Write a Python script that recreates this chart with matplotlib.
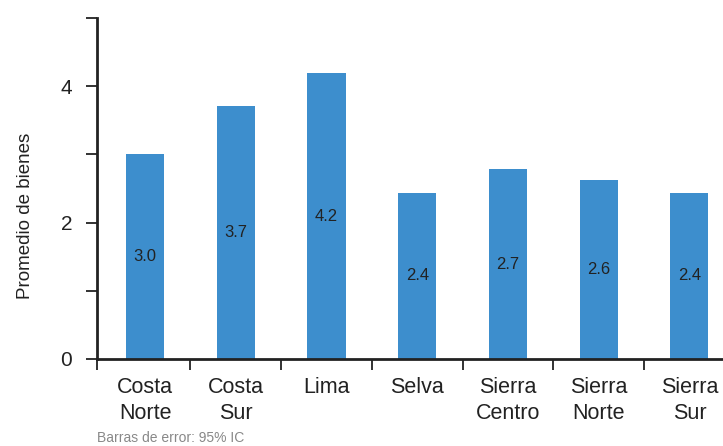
import numpy as np
import matplotlib.pyplot as plt

regions = ["Costa\nNorte", "Costa\nSur", "Lima", "Selva", "Sierra\nCentro", "Sierra\nNorte", "Sierra\nSur"]
promedio = [3.0, 3.71, 4.19, 2.44, 2.78, 2.62, 2.44]
value_labels = ["3.0", "3.7", "4.2", "2.4", "2.7", "2.6", "2.4"]

plt.rcParams['font.family'] = ['Liberation Sans', 'DejaVu Sans']

W, H = 723, 446
fig = plt.figure(figsize=(W / 100, H / 100), dpi=100)
ax = fig.add_axes([97 / W, (H - 359) / H, (W - 97) / W, (359 - 18) / H])

x = np.arange(len(regions))
ax.bar(x, promedio, width=0.42, color="#3d8ecd", zorder=2)

# value labels in the middle of each bar
for xi, v, lab in zip(x, promedio, value_labels):
    ax.text(xi, v / 2, lab, ha="center", va="center", fontsize=12, color="#222222")

x_left = -0.53
ax.set_xlim(x_left, 6.37)
ax.set_ylim(0, 5)

ax.set_yticks([0, 1, 2, 3, 4, 5])
ax.set_yticklabels(["0", "", "2", "", "4", ""])
ax.set_xticks(x)
ax.set_xticklabels(regions, fontsize=15.5, linespacing=1.3)
ax.set_xticks([x_left] + list(np.arange(1, len(regions)) - 0.5), minor=True)
ax.tick_params(axis="x", which="major", length=0, pad=13, colors="#222222")
ax.tick_params(axis="x", which="minor", length=8, width=1.3, color="#222222")
ax.tick_params(axis="y", length=8, width=1.3, labelsize=15, pad=10, color="#222222", labelcolor="#222222")

ax.spines["top"].set_visible(False)
ax.spines["right"].set_visible(False)
for s in ["left", "bottom"]:
    ax.spines[s].set_linewidth(2)
    ax.spines[s].set_color("#222222")
ax.spines["left"].set_bounds(0, 5)

ax.set_ylabel("Promedio de bienes", fontsize=13.5, color="#222222")
ax.yaxis.set_label_coords(-0.10, 0.42)

fig.text(97 / W, 1 - 438 / H, "Barras de error: 95% IC", fontsize=10, color="#888888", va="center")

fig.savefig("out.png", dpi=100)
